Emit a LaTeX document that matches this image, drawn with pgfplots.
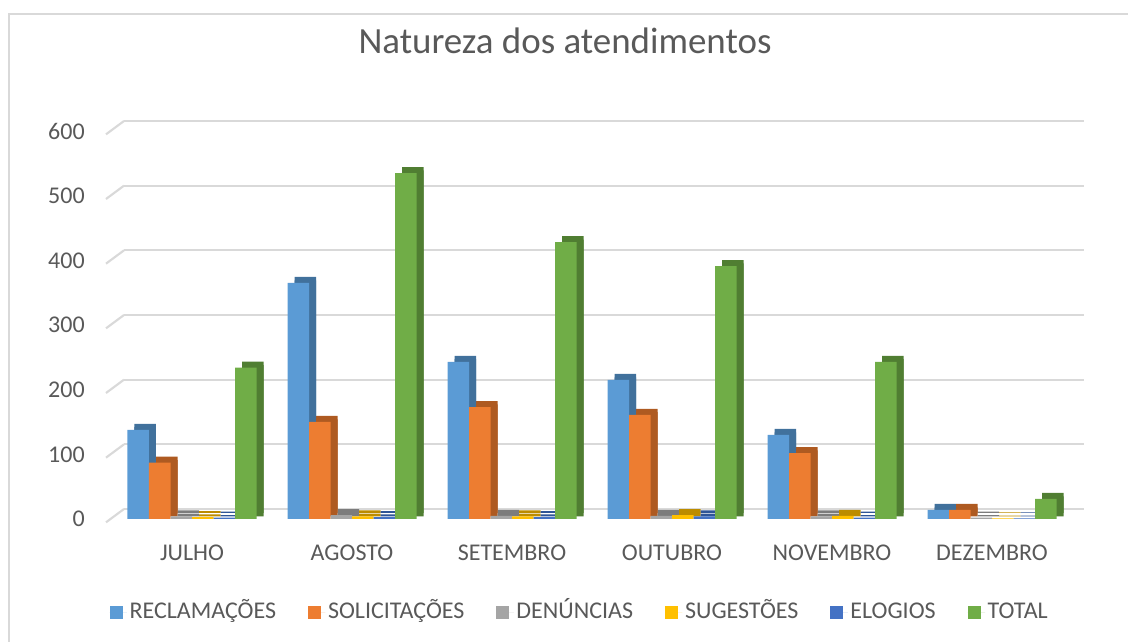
\documentclass[border=0pt]{standalone}
\usepackage{fontspec}
\setmainfont{Carlito}
\usepackage{pgfplots}
\usepackage{pgfplotstable}
\pgfplotsset{compat=1.18}
\definecolor{txt}{HTML}{595959}
\definecolor{gridc}{HTML}{D9D9D9}
\definecolor{cA}{HTML}{5B9BD5}\definecolor{dA}{HTML}{41719C}
\definecolor{cB}{HTML}{ED7D31}\definecolor{dB}{HTML}{AE5A21}
\definecolor{cC}{HTML}{A5A5A5}\definecolor{dC}{HTML}{7C7C7C}
\definecolor{cD}{HTML}{FFC000}\definecolor{dD}{HTML}{BC8C00}
\definecolor{cE}{HTML}{4472C4}\definecolor{dE}{HTML}{2F5597}
\definecolor{cF}{HTML}{70AD47}\definecolor{dF}{HTML}{507E32}

\pgfplotstableread{
x rec sol den sug elo tot
0 138 87 4 3 2 234
1 365 150 6 4 3 535
2 243 173 5 4 3 428
3 215 161 5 6 4 391
4 130 102 4 5 2 243
5 14 14 2 1 1 31
}\data

\pgfplotsset{
  sideA/.style={forget plot, draw=none, xshift=5.25pt},
}

\begin{document}
\begin{tikzpicture}
\useasboundingbox (0,0) rectangle (846pt,481.5pt);
\draw[gridc, line width=1.2pt] (6.75pt,-2pt) -- (6.75pt,471pt) -- (850pt,471pt);
\node[anchor=base, text=txt, font=\fontsize{27.7pt}{30pt}\selectfont] at (423.75pt,441pt) {Natureza dos atendimentos};
\begin{axis}[
  at={(84pt,92.25pt)}, anchor=south west,
  scale only axis, width=720pt, height=291pt,
  xmin=-0.5, xmax=5.5, ymin=0, ymax=600,
  enlargelimits=false, clip=false,
  ybar, bar width=16.125pt,
  axis line style={draw=none},
  major tick length=0pt, tick style={draw=none},
  ytick={0,100,...,600},
  xtick={0,...,5},
  xticklabels={JULHO,AGOSTO,SETEMBRO,OUTUBRO,NOVEMBRO,DEZEMBRO},
  /pgf/number format/assume math mode=true,
  ticklabel style={font=\fontsize{18pt}{20pt}\selectfont, text=txt},
  yticklabel style={inner sep=0pt, xshift=-20.25pt},
  xticklabel style={inner sep=0pt, anchor=north, yshift=-19.5pt},
  ymajorgrids,
  major grid style={draw=gridc, line width=1.6pt, xshift=9pt, yshift=7.5pt},
  legend columns=6,
  legend style={at={(0.4875,-0.24)}, anchor=center, draw=none,
    font=\fontsize{18pt}{20pt}\selectfont, text=txt,
    nodes={text height=12.5pt, text depth=3pt, inner xsep=2pt},
    /tikz/every even column/.append style={column sep=22pt}},
  legend image code/.code={\fill[#1] (0pt,-4.9pt) rectangle (9.75pt,4.9pt); \path (0pt,0pt) -- (13pt,0pt);},
]
\pgfplotsinvokeforeach{0,100,...,600}{
  \draw[gridc, line width=1.6pt] ([xshift=-4.5pt,yshift=-2.5pt]axis cs:-0.5,#1) -- ([xshift=9pt,yshift=7.5pt]axis cs:-0.5,#1);
}
% depth faces: raised part
\addplot[sideA, fill=dA, bar shift=-40.3125pt, yshift=4.5pt] table[x=x,y=rec]{\data};
\addplot[sideA, fill=dB, bar shift=-24.1875pt, yshift=4.5pt] table[x=x,y=sol]{\data};
\addplot[sideA, fill=dC, bar shift=-8.0625pt, yshift=4.5pt] table[x=x,y=den]{\data};
\addplot[sideA, fill=dD, bar shift=8.0625pt, yshift=4.5pt] table[x=x,y=sug]{\data};
\addplot[sideA, fill=dE, bar shift=24.1875pt, yshift=4.5pt] table[x=x,y=elo]{\data};
\addplot[sideA, fill=dF, bar shift=40.3125pt, yshift=4.5pt] table[x=x,y=tot]{\data};
% depth faces: lower part
\addplot[sideA, fill=dA, bar shift=-40.3125pt, yshift=2pt] table[x=x,y=rec]{\data};
\addplot[sideA, fill=dB, bar shift=-24.1875pt, yshift=2pt] table[x=x,y=sol]{\data};
\addplot[sideA, fill=dC, bar shift=-8.0625pt, yshift=2pt] table[x=x,y=den]{\data};
\addplot[sideA, fill=dD, bar shift=8.0625pt, yshift=2pt] table[x=x,y=sug]{\data};
\addplot[sideA, fill=dE, bar shift=24.1875pt, yshift=2pt] table[x=x,y=elo]{\data};
\addplot[sideA, fill=dF, bar shift=40.3125pt, yshift=2pt] table[x=x,y=tot]{\data};
% front faces
\addplot[fill=cA, draw=none, bar shift=-40.3125pt] table[x=x,y=rec]{\data};
\addplot[fill=cB, draw=none, bar shift=-24.1875pt] table[x=x,y=sol]{\data};
\addplot[fill=cC, draw=none, bar shift=-8.0625pt] table[x=x,y=den]{\data};
\addplot[fill=cD, draw=none, bar shift=8.0625pt] table[x=x,y=sug]{\data};
\addplot[fill=cE, draw=none, bar shift=24.1875pt] table[x=x,y=elo]{\data};
\addplot[fill=cF, draw=none, bar shift=40.3125pt] table[x=x,y=tot]{\data};
\legend{RECLAMAÇÕES,SOLICITAÇÕES,DENÚNCIAS,SUGESTÕES,ELOGIOS,TOTAL}
\end{axis}
\end{tikzpicture}
\end{document}
